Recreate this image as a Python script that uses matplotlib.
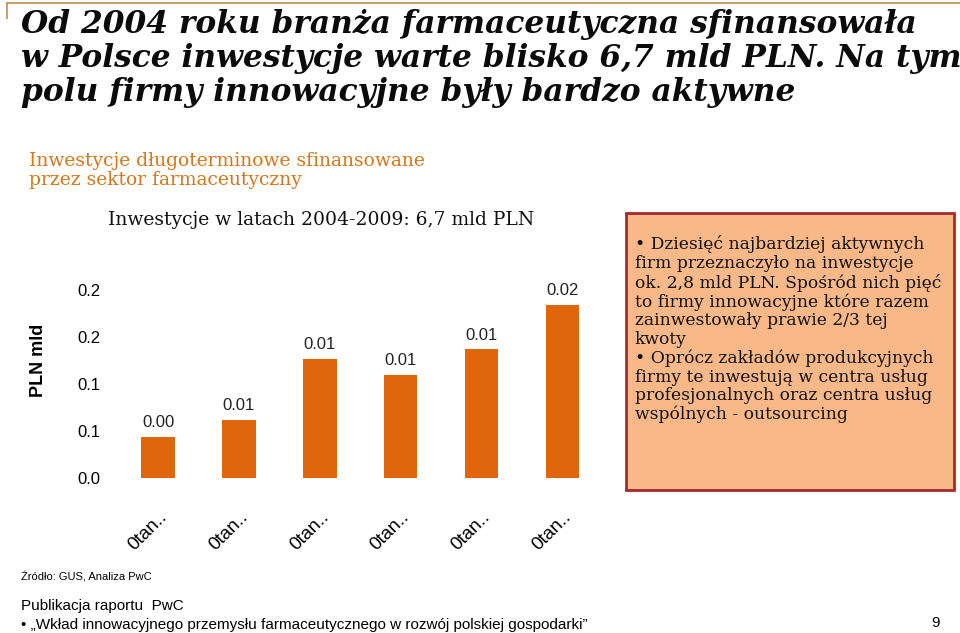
import matplotlib

matplotlib.use("Agg")
import matplotlib.pyplot as plt
from matplotlib.patches import Rectangle

ORANGE = "#e0660d"
SUB = "#d4771c"
SERIF = "DejaVu Serif"
SANS = "Liberation Sans"

categories = ["0tan..", "0tan..", "0tan..", "0tan..", "0tan..", "0tan.."]
values = [0.0044, 0.0062, 0.0127, 0.0110, 0.0137, 0.0184]
value_labels = ["0.00", "0.01", "0.01", "0.01", "0.01", "0.02"]
ytick_vals = [0.0, 0.005, 0.010, 0.015, 0.020]
ytick_labels = ["0.0", "0.1", "0.1", "0.2", "0.2"]

fig = plt.figure(figsize=(9.6, 6.33), dpi=100)
fig.patch.set_facecolor("white")

# slide frame
fig.add_artist(plt.Line2D([0.007, 1.0], [0.996, 0.996], color="#c8a070", lw=1.5))
fig.add_artist(plt.Line2D([0.007, 0.007], [0.996, 0.972], color="#c8a070", lw=1.5))

fig.text(0.022, 0.985, "Od 2004 roku branża farmaceutyczna sfinansowała\n"
         "w Polsce inwestycje warte blisko 6,7 mld PLN. Na tym\n"
         "polu firmy innowacyjne były bardzo aktywne",
         fontsize=22.5, fontweight="bold", fontstyle="italic", family=SERIF,
         va="top", ha="left", linespacing=1.12, color="#0b0b0b")
fig.text(0.030, 0.760, "Inwestycje długoterminowe sfinansowane\nprzez sektor farmaceutyczny",
         fontsize=13.5, family=SERIF, color=SUB,
         va="top", ha="left", linespacing=1.05)
fig.text(0.113, 0.652, "Inwestycje w latach 2004-2009: 6,7 mld PLN",
         fontsize=13.5, family=SERIF, color="#111111",
         va="center", ha="left")

ax = fig.add_axes([0.125, 0.245, 0.5, 0.371])
x = list(range(len(categories)))
ax.bar(x, values, width=0.41, color=ORANGE)
for xi, v, lab in zip(x, values, value_labels):
    ax.text(xi, v + 0.0007, lab, ha="center", va="bottom", fontsize=12,
            family=SANS, color="#222222")
ax.set_xlim(-0.47, 5.46)
ax.set_ylim(0, 0.025)
ax.set_yticks(ytick_vals)
ax.set_yticklabels(ytick_labels, fontsize=12, family=SANS)
ax.set_xticks(x)
ax.set_xticklabels(categories, rotation=45, ha="right", rotation_mode="anchor",
                   fontsize=13.5, family=SANS)
ax.tick_params(length=0, pad=14)
ax.tick_params(axis="x", pad=22)
for s in ax.spines.values():
    s.set_visible(False)
ax.set_ylabel("PLN mld", fontsize=13, fontweight="bold", family=SANS, labelpad=22)

# note box
fig.add_artist(Rectangle((0.652, 0.226), 0.342, 0.437, transform=fig.transFigure,
                         facecolor="#f9b887", edgecolor="#a52a2a", lw=2))
fig.text(0.661, 0.628,
         "• Dziesięć najbardziej aktywnych\nfirm przeznaczyło na inwestycje\n"
         "ok. 2,8 mld PLN. Spośród nich pięć\nto firmy innowacyjne które razem\n"
         "zainwestowały prawie 2/3 tej\nkwoty\n• Oprócz zakładów produkcyjnych\n"
         "firmy te inwestują w centra usług\nprofesjonalnych oraz centra usług\n"
         "wspólnych - outsourcing",
         fontsize=12.3, family=SERIF, va="top", ha="left", linespacing=1.12,
         color="#111111")

fig.text(0.022, 0.088, "Źródło: GUS, Analiza PwC", fontsize=8, family=SANS, va="center")
fig.text(0.022, 0.042, "Publikacja raportu  PwC", fontsize=11, family=SANS, va="center")
fig.text(0.022, 0.012, "• „Wkład innowacyjnego przemysłu farmaceutycznego w rozwój polskiej gospodarki”",
         fontsize=11, family=SANS, va="center")
fig.text(0.975, 0.016, "9", fontsize=11, family=SANS, va="center", ha="center")

fig.savefig("out.png", dpi=100, facecolor="white")
